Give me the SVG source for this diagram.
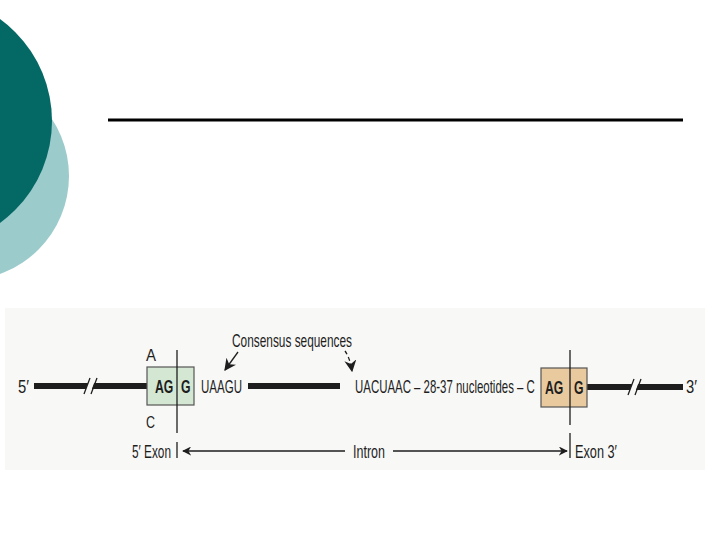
<svg xmlns="http://www.w3.org/2000/svg" width="720" height="540" viewBox="0 0 720 540">
<style>
.t{font-family:"Liberation Sans",Arial,sans-serif;font-size:19px;fill:#1e1e1e}
.s{font-family:"Liberation Sans",Arial,sans-serif;font-size:16px;fill:#1e1e1e}
.b{font-family:"Liberation Sans",Arial,sans-serif;font-size:18px;font-weight:bold;fill:#1e1e1e}
.thick{stroke:#1e1e1e;stroke-width:6;fill:none}
.thin{stroke:#1e1e1e;stroke-width:1.3;fill:none}
.box{stroke:#555;stroke-width:1.2}
</style>
<defs>
<marker id="ah" viewBox="0 0 10 10" refX="9" refY="5" markerWidth="9" markerHeight="9" orient="auto" markerUnits="userSpaceOnUse">
<path d="M0,0 L10,5 L0,10 L3,5 z" fill="#1e1e1e"/>
</marker>
<marker id="ah2" viewBox="0 0 10 10" refX="9" refY="5" markerWidth="12" markerHeight="12" orient="auto" markerUnits="userSpaceOnUse">
<path d="M0,0 L10,5 L0,10 L3,5 z" fill="#1e1e1e"/>
</marker>
</defs>
<rect width="720" height="540" fill="#ffffff"/>
<g id="deco">
<circle cx="-35" cy="176" r="104" fill="#9ccbcc"/>
<circle cx="-74" cy="121" r="126" fill="#046864"/>
<line x1="108" y1="120" x2="683" y2="120" stroke="#000" stroke-width="3"/>
</g>
<rect x="5" y="308" width="700" height="162" fill="#f8f8f6"/>
<g id="connectors">
<line class="thick" x1="34" y1="386" x2="148" y2="386"/>
<line class="thick" x1="248" y1="386" x2="340" y2="386"/>
<line class="thick" x1="587" y1="387" x2="683" y2="387"/>
<polygon points="90,378 96,378 90,394 84,394" fill="#f8f8f6"/>
<line class="thin" x1="90" y1="378" x2="84" y2="394"/>
<line class="thin" x1="97" y1="378" x2="91" y2="394"/>
<polygon points="634,379 640,379 634,395 628,395" fill="#f8f8f6"/>
<line class="thin" x1="634" y1="379" x2="628" y2="395"/>
<line class="thin" x1="641" y1="379" x2="635" y2="395"/>
<line class="thin" x1="238" y1="352" x2="225" y2="370" marker-end="url(#ah2)"/>
<path class="thin" d="M345,351 Q350,358 352,371" stroke-dasharray="4,3" marker-end="url(#ah2)"/>
<line class="thin" x1="345" y1="451" x2="183" y2="451" marker-end="url(#ah)"/>
<line class="thin" x1="393" y1="451" x2="567" y2="451" marker-end="url(#ah)"/>
</g>
<g id="exon5">
<rect class="box" x="147" y="367" width="47" height="38" fill="#d3e7d3"/>
<text class="b" transform="translate(155,393) scale(0.68,1)">AG</text>
<text class="b" transform="translate(181,393) scale(0.68,1)">G</text>
<line class="thin" x1="177" y1="350" x2="177" y2="433"/>
<line class="thin" x1="177" y1="442" x2="177" y2="458"/>
<text class="s" x="146" y="361" textLength="10" lengthAdjust="spacingAndGlyphs">A</text>
<text class="s" x="146" y="428" textLength="9" lengthAdjust="spacingAndGlyphs">C</text>
<text class="t" x="18" y="393" textLength="11" lengthAdjust="spacingAndGlyphs">5′</text>
<text class="t" x="132" y="458" textLength="39" lengthAdjust="spacingAndGlyphs">5′ Exon</text>
</g>
<g id="intron">
<text class="t" x="201" y="393" textLength="41" lengthAdjust="spacingAndGlyphs">UAAGU</text>
<text class="t" x="232" y="347" textLength="120" lengthAdjust="spacingAndGlyphs">Consensus sequences</text>
<text class="t" transform="translate(355,393) scale(0.602,1)">UACUAAC – 28-37 nucleotides – C</text>
<text class="t" x="353" y="458" textLength="32" lengthAdjust="spacingAndGlyphs">Intron</text>
</g>
<g id="exon3">
<rect class="box" x="541" y="368" width="46" height="39" fill="#e9c99e"/>
<text class="b" transform="translate(545,394) scale(0.68,1)">AG</text>
<text class="b" transform="translate(574,394) scale(0.68,1)">G</text>
<line class="thin" x1="570" y1="350" x2="570" y2="425"/>
<line class="thin" x1="570" y1="433" x2="570" y2="458"/>
<text class="t" x="686" y="393" textLength="11" lengthAdjust="spacingAndGlyphs">3′</text>
<text class="t" x="575" y="458" textLength="42" lengthAdjust="spacingAndGlyphs">Exon 3′</text>
</g>
</svg>
